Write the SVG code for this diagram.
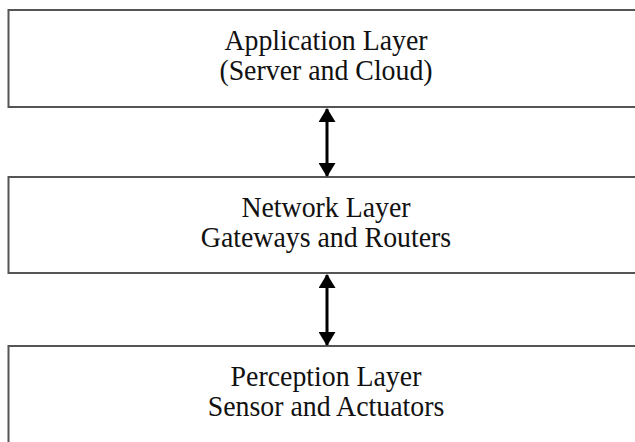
<svg xmlns="http://www.w3.org/2000/svg" width="635" height="442" viewBox="0 0 635 442">
<style>
.box{fill:#fff;stroke:#555;stroke-width:2}
.t{font-family:"Liberation Serif","Times New Roman",serif;font-size:29px;fill:#111;text-anchor:middle}
.conn{stroke:#000;stroke-width:3;fill:none}
</style>
<defs>
<marker id="ah" markerUnits="userSpaceOnUse" markerWidth="14" markerHeight="17" refX="13" refY="8.5" orient="auto-start-reverse" viewBox="0 0 14 17">
<path d="M0,0 L14,8.5 L0,17 z" fill="#000"/>
</marker>
</defs>
<rect width="635" height="442" fill="#fff"/>
<g id="application">
<rect class="box" x="8.5" y="10" width="640" height="97"/>
<g transform="translate(326 0) scale(0.96 1)">
<text class="t" x="0" y="50">Application Layer</text>
<text class="t" x="0" y="80">(Server and Cloud)</text>
</g>
</g>
<g id="network">
<rect class="box" x="8.5" y="177" width="640" height="96"/>
<g transform="translate(326 0) scale(0.96 1)">
<text class="t" x="0" y="217">Network Layer</text>
<text class="t" x="0" y="247">Gateways and Routers</text>
</g>
</g>
<g id="perception">
<rect class="box" x="8.5" y="346" width="640" height="110"/>
<g transform="translate(326 0) scale(0.96 1)">
<text class="t" x="0" y="386">Perception Layer</text>
<text class="t" x="0" y="416">Sensor and Actuators</text>
</g>
</g>
<g id="connectors">
<line class="conn" x1="327" y1="109" x2="327" y2="176" marker-start="url(#ah)" marker-end="url(#ah)"/>
<line class="conn" x1="327" y1="275" x2="327" y2="345" marker-start="url(#ah)" marker-end="url(#ah)"/>
</g>
</svg>
